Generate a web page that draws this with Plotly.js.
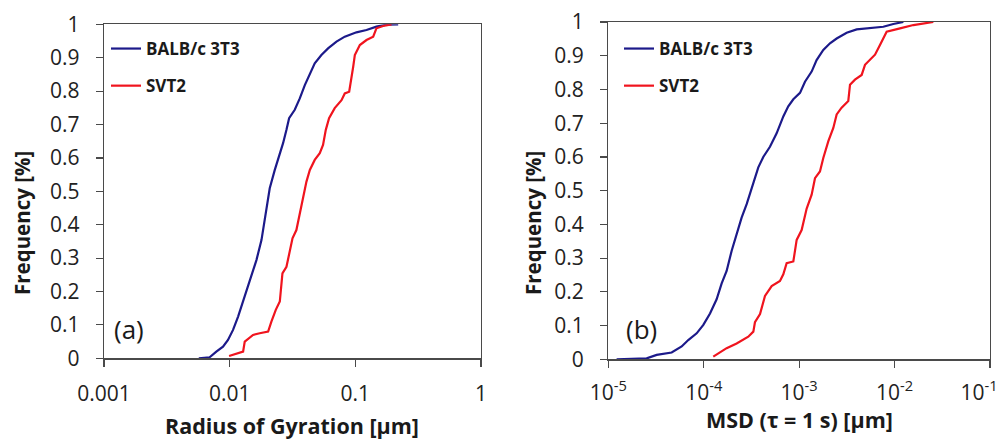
<!DOCTYPE html>
<html>
<head>
<meta charset="utf-8">
<script src="https://cdn.plot.ly/plotly-3.0.1.min.js"></script>
<style>html,body{margin:0;padding:0;background:#fff;} #chart{width:1006px;height:439px;}</style>
</head>
<body>
<div id="chart"></div>
<script>
// ---- Data ----
const seriesNames = ["BALB/c 3T3", "SVT2"];

// Panel (a): Radius of Gyration [µm] cumulative frequency
const rgBalbX = [0.00568, 0.00693, 0.00783, 0.00885, 0.00970, 0.01064, 0.01167, 0.01318, 0.01489, 0.01633,
  0.01791, 0.01901, 0.01959, 0.02084, 0.02286, 0.02506, 0.02661, 0.02831, 0.02972, 0.03296,
  0.03614, 0.03963, 0.04345, 0.04753, 0.05370, 0.06067, 0.07079, 0.08241, 0.1021, 0.1227,
  0.1472, 0.1770, 0.2193];
const rgBalbY = [0.000, 0.003, 0.020, 0.035, 0.055, 0.085, 0.125, 0.185, 0.245, 0.294,
  0.354, 0.414, 0.454, 0.509, 0.564, 0.609, 0.644, 0.684, 0.719, 0.744,
  0.778, 0.818, 0.853, 0.883, 0.908, 0.928, 0.948, 0.963, 0.976, 0.983,
  0.993, 0.999, 1.000];
const rgSvtX = [0.00989, 0.01167, 0.01279, 0.01318, 0.01535, 0.01734, 0.02023, 0.02148, 0.02328, 0.02506,
  0.02630, 0.02831, 0.02972, 0.03162, 0.03396, 0.03614, 0.03837, 0.04083, 0.04345, 0.04753,
  0.05212, 0.05534, 0.05821, 0.06180, 0.06855, 0.07762, 0.08241, 0.08933, 0.09616, 0.09908,
  0.1086, 0.1227, 0.1387, 0.1472, 0.1663, 0.1941];
const rgSvtY = [0.007, 0.015, 0.020, 0.050, 0.070, 0.075, 0.080, 0.110, 0.145, 0.170,
  0.254, 0.274, 0.314, 0.359, 0.384, 0.434, 0.479, 0.529, 0.564, 0.594,
  0.614, 0.639, 0.684, 0.719, 0.749, 0.773, 0.793, 0.798, 0.873, 0.908,
  0.938, 0.953, 0.963, 0.988, 0.995, 1.000];

// Panel (b): MSD (tau = 1 s) [µm] cumulative frequency
const msdBalbX = [1.222e-5, 2.523e-5, 3.214e-5, 4.613e-5, 5.875e-5, 6.887e-5, 8.433e-5, 9.908e-5, 1.164e-4, 1.365e-4,
  1.542e-4, 1.738e-4, 1.963e-4, 2.213e-4, 2.495e-4, 2.818e-4, 3.311e-4, 3.733e-4, 4.207e-4, 4.943e-4,
  5.808e-4, 6.823e-4, 7.691e-4, 8.690e-4, 1.021e-3, 1.151e-3, 1.352e-3, 1.524e-3, 1.791e-3, 2.104e-3,
  2.472e-3, 3.148e-3, 4.009e-3, 5.093e-3, 7.621e-3, 9.705e-3, 1.236e-2];
const msdBalbY = [0.000, 0.003, 0.013, 0.020, 0.038, 0.057, 0.077, 0.102, 0.136, 0.178,
  0.225, 0.262, 0.322, 0.371, 0.420, 0.460, 0.520, 0.569, 0.600, 0.630,
  0.670, 0.720, 0.750, 0.771, 0.790, 0.823, 0.853, 0.887, 0.917, 0.937,
  0.951, 0.968, 0.978, 0.981, 0.986, 0.994, 1.000];
const msdSvtX = [1.259e-4, 1.738e-4, 2.213e-4, 2.931e-4, 3.311e-4, 3.443e-4, 3.890e-4, 4.385e-4, 5.152e-4, 6.295e-4,
  6.823e-4, 7.396e-4, 8.690e-4, 9.419e-4, 1.062e-3, 1.199e-3, 1.352e-3, 1.466e-3, 1.652e-3, 1.791e-3,
  2.023e-3, 2.280e-3, 2.472e-3, 2.786e-3, 3.273e-3, 3.412e-3, 3.846e-3, 4.519e-3, 4.898e-3, 5.521e-3,
  6.237e-3, 7.031e-3, 7.621e-3, 8.260e-3, 1.140e-2, 1.574e-2, 2.547e-2];
const msdSvtY = [0.008, 0.033, 0.047, 0.067, 0.082, 0.110, 0.134, 0.188, 0.217, 0.232,
  0.252, 0.285, 0.290, 0.354, 0.383, 0.447, 0.488, 0.537, 0.557, 0.597,
  0.647, 0.686, 0.726, 0.746, 0.766, 0.814, 0.829, 0.843, 0.873, 0.888,
  0.903, 0.932, 0.952, 0.971, 0.981, 0.991, 1.000];

// Tick labels
const rgTickVals = [0.001, 0.01, 0.1, 1];
const rgTickText = ["0.001", "0.01", "0.1", "1"];
const msdTickVals = [1e-5, 1e-4, 1e-3, 1e-2, 1e-1];
const msdTickText = ["10<sup>-5</sup>", "10<sup>-4</sup>", "10<sup>-3</sup>", "10<sup>-2</sup>", "10<sup>-1</sup>\u00a0\u00a0\u00a0\u00a0"];
const freqTickVals = [0, 0.1, 0.2, 0.3, 0.4, 0.5, 0.6, 0.7, 0.8, 0.9, 1];
const freqTickText = ["0", "0.1", "0.2", "0.3", "0.4", "0.5", "0.6", "0.7", "0.8", "0.9", "1"];

// ---- Styling / layout ----
const W = 1006, H = 439;
const px = v => v / W;
const py = v => 1 - v / H;
const FONT = "Open Sans, Noto Sans, sans-serif";
const BLUE = "#1c1a8a";
const RED = "#f0141e";
const AXIS = "#4a4a4a";

const traces = [
  {x: rgBalbX, y: rgBalbY, name: seriesNames[0], xaxis: "x", yaxis: "y", legend: "legend", legendgroup: "a1"},
  {x: rgSvtX, y: rgSvtY, name: seriesNames[1], xaxis: "x", yaxis: "y", legend: "legend", legendgroup: "a2"},
  {x: msdBalbX, y: msdBalbY, name: seriesNames[0], xaxis: "x2", yaxis: "y2", legend: "legend2", legendgroup: "b1"},
  {x: msdSvtX, y: msdSvtY, name: seriesNames[1], xaxis: "x2", yaxis: "y2", legend: "legend2", legendgroup: "b2"}
].map((t, i) => Object.assign(t, {
  type: "scatter", mode: "lines",
  line: {color: i % 2 === 0 ? BLUE : RED, width: 2.2},
  hoverinfo: "skip"
}));

const tickFont = {family: FONT, size: 21, color: "#222"};
const baseY = {
  range: [0, 1], tickvals: freqTickVals, ticktext: freqTickText,
  showgrid: false, zeroline: false, showline: true, linecolor: AXIS, linewidth: 1.3,
  mirror: true, ticks: "outside", ticklen: 7, tickcolor: AXIS, tickwidth: 1.2,
  tickfont: tickFont, ticklabelstandoff: 12, fixedrange: true
};
const baseX = {
  type: "log", showgrid: false, zeroline: false, showline: true, linecolor: AXIS, linewidth: 1.3,
  mirror: true, ticks: "outside", ticklen: 7, tickcolor: AXIS, tickwidth: 1.2,
  tickfont: tickFont, fixedrange: true, ticklabeloverflow: "allow"
};

const legendBase = {
  bgcolor: "rgba(0,0,0,0)", borderwidth: 0,
  font: {family: FONT, size: 17, color: "#1a1a1a", weight: "bold"},
  xanchor: "left", yanchor: "top", tracegroupgap: 12, itemwidth: 30, traceorder: "grouped"
};

const titleFont = {family: FONT, size: 21.5, color: "#1a1a1a", weight: "bold"};

const layout = {
  width: W, height: H,
  margin: {l: 0, r: 0, t: 0, b: 0},
  paper_bgcolor: "#fff", plot_bgcolor: "#fff",
  showlegend: true,
  xaxis: Object.assign({}, baseX, {domain: [px(104), px(481)], range: [-3, 0], tickvals: rgTickVals, ticktext: rgTickText, ticklabelstandoff: 9, anchor: "y"}),
  yaxis: Object.assign({}, baseY, {domain: [py(358.3), py(24.3)], anchor: "x"}),
  xaxis2: Object.assign({}, baseX, {domain: [px(608.3), px(990)], range: [-5, -1], tickvals: msdTickVals, ticktext: msdTickText, ticklabelstandoff: 7, anchor: "y2"}),
  yaxis2: Object.assign({}, baseY, {domain: [py(359.3), py(22)], anchor: "x2"}),
  legend: Object.assign({}, legendBase, {x: px(106), y: py(31)}),
  legend2: Object.assign({}, legendBase, {x: px(619), y: py(31)}),
  annotations: [
    {text: "(a)", x: px(129), y: py(329), xref: "paper", yref: "paper", showarrow: false, xanchor: "center", yanchor: "middle", font: {family: FONT, size: 26, color: "#1a1a1a"}},
    {text: "(b)", x: px(641), y: py(329), xref: "paper", yref: "paper", showarrow: false, xanchor: "center", yanchor: "middle", font: {family: FONT, size: 26, color: "#1a1a1a"}},
    {text: "Frequency [%]", x: px(22), y: py(223), xref: "paper", yref: "paper", showarrow: false, textangle: -90, xanchor: "center", yanchor: "middle", font: {family: FONT, size: 20.5, color: "#1a1a1a", weight: "bold"}},
    {text: "Frequency [%]", x: px(533), y: py(223), xref: "paper", yref: "paper", showarrow: false, textangle: -90, xanchor: "center", yanchor: "middle", font: {family: FONT, size: 20.5, color: "#1a1a1a", weight: "bold"}},
    {text: "Radius of Gyration [\u00b5m]", x: px(292), y: py(425), xref: "paper", yref: "paper", showarrow: false, xanchor: "center", yanchor: "middle", font: titleFont},
    {text: "MSD (\u03c4 = 1 s) [\u00b5m]", x: px(799), y: py(419), xref: "paper", yref: "paper", showarrow: false, xanchor: "center", yanchor: "middle", font: titleFont}
  ]
};

Plotly.newPlot("chart", traces, layout, {staticPlot: true, displayModeBar: false});
</script>
</body>
</html>
